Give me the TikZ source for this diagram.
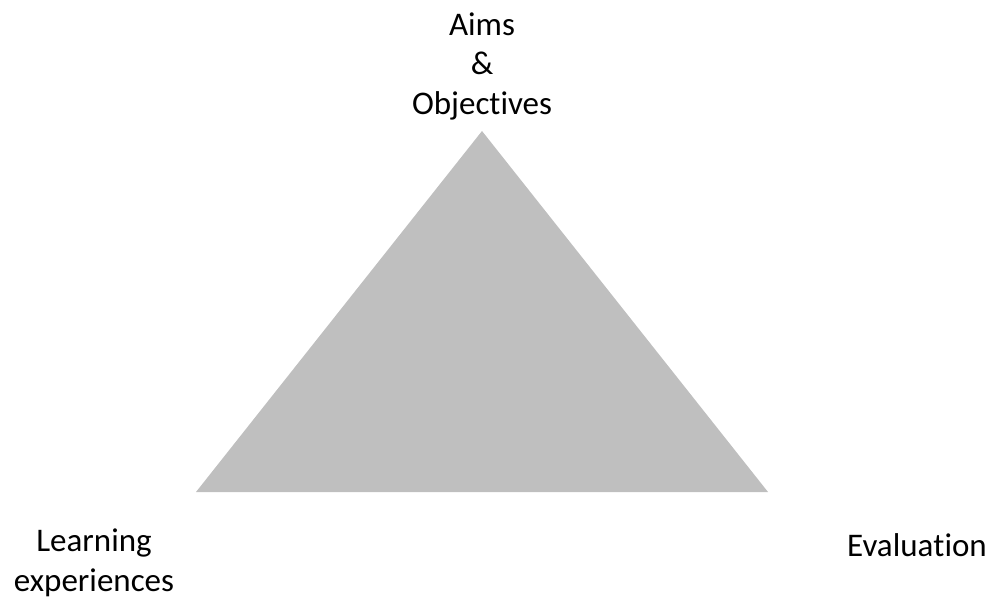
\documentclass[tikz,border=0pt]{standalone}
\usepackage{fontspec}
\setmainfont[RawFeature={-liga;-clig;-dlig;-calt}]{Carlito}
\begin{document}
\begin{tikzpicture}[x=1pt,y=-1pt,
  lbl/.style={align=center,font=\fontsize{33}{39.5}\selectfont,inner sep=0pt}]
\useasboundingbox (0,0) rectangle (992,599);
\coordinate (top) at (482,131);
\coordinate (bl) at (196,492);
\coordinate (br) at (768,492);
\fill[fill={rgb,255:red,191;green,191;blue,191}] (top) -- (bl) -- (br) -- cycle;
\node[lbl] (aims) at (482,66) {Aims\\\&\\Objec\mbox{t}ives};
\node[lbl] (learn) at (94,563) {Learning\\experiences};
\node[lbl] (eval) at (917,545) {Evalua\mbox{t}ion};
\end{tikzpicture}
\end{document}
